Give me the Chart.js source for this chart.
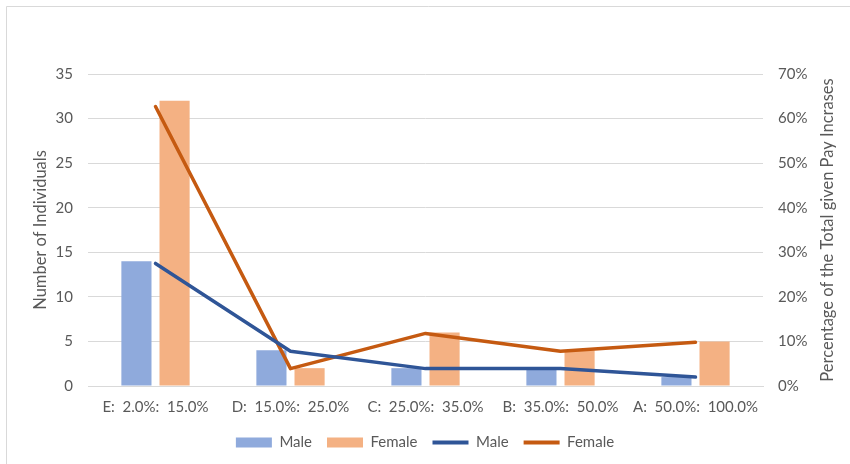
<!DOCTYPE html>
<html>
<head>
<meta charset="utf-8">
<script src="https://cdn.jsdelivr.net/npm/chart.js@4.4.1/dist/chart.umd.min.js"></script>
<style>
  html, body { margin: 0; padding: 0; background: #ffffff; overflow: hidden; }
  #wrap { position: relative; width: 850px; height: 464px; }
</style>
</head>
<body>
<div id="wrap"><canvas id="chart" width="850" height="464"></canvas></div>
<script>
// Pay-increase bands
const categories = [
  'E:  2.0%:  15.0%',
  'D:  15.0%:  25.0%',
  'C:  25.0%:  35.0%',
  'B:  35.0%:  50.0%',
  'A:  50.0%:  100.0%'
];

// Number of individuals per band (left axis)
const maleCounts = [14, 4, 2, 2, 1];
const femaleCounts = [32, 2, 6, 4, 5];

// Share of all pay increases, in percent (right axis)
const malePct = [27.5, 7.8, 3.9, 3.9, 2.0];
const femalePct = [62.7, 3.9, 11.8, 7.8, 9.8];

// Axis ranges
const countMax = 35, countStep = 5;
const pctMax = 70, pctStep = 10;

const TEXT = '#595959';
const GRID = '#d9d9d9';
const FAMILY = 'Lato, "Liberation Sans", sans-serif';
const FONT = { family: FAMILY, size: 15 };
const TITLE_FONT = { family: FAMILY, size: 16.5 };
const RIGHT_TITLE = 'Percentage of the Total given Pay Incrases';

// Light frame around the chart
const framePlugin = {
  id: 'frame',
  beforeDraw(chart) {
    const ctx = chart.ctx;
    ctx.save();
    ctx.fillStyle = '#ffffff';
    ctx.fillRect(0, 0, chart.width, chart.height);
    ctx.strokeStyle = GRID;
    ctx.lineWidth = 1;
    ctx.beginPath();
    ctx.moveTo(6.5, chart.height + 2);
    ctx.lineTo(6.5, 6.5);
    ctx.lineTo(chart.width + 2, 6.5);
    ctx.stroke();
    ctx.restore();
  }
};

// Right-axis title, reading bottom to top like the left one
const rightTitlePlugin = {
  id: 'rightTitle',
  afterDraw(chart) {
    const area = chart.chartArea;
    const ctx = chart.ctx;
    ctx.save();
    ctx.translate(828, (area.top + area.bottom) / 2);
    ctx.rotate(-Math.PI / 2);
    ctx.fillStyle = TEXT;
    ctx.font = TITLE_FONT.size + 'px ' + TITLE_FONT.family;
    ctx.textAlign = 'center';
    ctx.textBaseline = 'middle';
    ctx.fillText(RIGHT_TITLE, 0, 0);
    ctx.restore();
  }
};

new Chart(document.getElementById('chart'), {
  type: 'bar',
  data: {
    labels: categories,
    datasets: [
      {
        type: 'bar', label: 'Male', data: maleCounts, yAxisID: 'y',
        backgroundColor: '#8faadc', borderWidth: 0, order: 2,
        barPercentage: 0.79, categoryPercentage: 0.565
      },
      {
        type: 'bar', label: 'Female', data: femaleCounts, yAxisID: 'y',
        backgroundColor: '#f4b183', borderWidth: 0, order: 2,
        barPercentage: 0.79, categoryPercentage: 0.565
      },
      {
        type: 'line', label: 'Male', data: malePct, yAxisID: 'y1',
        borderColor: '#2f5597', backgroundColor: '#2f5597', borderWidth: 3.5,
        pointRadius: 0, tension: 0, borderCapStyle: 'round', borderJoinStyle: 'round',
        pointStyle: 'line', order: 1
      },
      {
        type: 'line', label: 'Female', data: femalePct, yAxisID: 'y1',
        borderColor: '#c55a11', backgroundColor: '#c55a11', borderWidth: 3.5,
        pointRadius: 0, tension: 0, borderCapStyle: 'round', borderJoinStyle: 'round',
        pointStyle: 'line', order: 1
      }
    ]
  },
  options: {
    responsive: false,
    animation: false,
    devicePixelRatio: 1,
    layout: { padding: { top: 74, left: 0, right: 0, bottom: 4 } },
    plugins: {
      tooltip: { enabled: false },
      legend: {
        position: 'bottom',
        labels: {
          color: TEXT,
          font: FONT,
          usePointStyle: true,
          pointStyleWidth: 36,
          boxHeight: 10,
          padding: 15,
          sort: (a, b) => a.datasetIndex - b.datasetIndex,
          generateLabels(chart) {
            const items = Chart.defaults.plugins.legend.labels.generateLabels(chart);
            items.forEach(it => {
              const ds = chart.data.datasets[it.datasetIndex];
              if (ds.type === 'line') {
                it.pointStyle = 'line';
                it.lineWidth = 4;
                it.strokeStyle = ds.borderColor;
              } else {
                it.pointStyle = 'rect';
                it.lineWidth = 0;
                it.fillStyle = ds.backgroundColor;
              }
            });
            return items;
          }
        }
      }
    },
    scales: {
      x: {
        grid: { display: false, drawTicks: false },
        border: { display: true, color: GRID, width: 1 },
        ticks: { color: TEXT, font: FONT, padding: 12, maxRotation: 0, autoSkip: false },
        afterFit(scale) { scale.height = 34; }
      },
      y: {
        position: 'left',
        min: 0, max: countMax,
        grid: { color: GRID, lineWidth: 1, drawTicks: false },
        border: { display: false },
        ticks: { stepSize: countStep, color: TEXT, font: FONT, padding: 15 },
        title: {
          display: true, text: 'Number of Individuals',
          color: TEXT, font: TITLE_FONT, padding: { top: 31, bottom: 0 }
        },
        afterFit(scale) { scale.width = 88; }
      },
      y1: {
        position: 'right',
        min: 0, max: pctMax,
        grid: { display: false, drawTicks: false },
        border: { display: false },
        ticks: {
          stepSize: pctStep, color: TEXT, font: FONT, padding: 15,
          callback: v => v + '%'
        },
        afterFit(scale) { scale.width = 87; }
      }
    }
  },
  plugins: [framePlugin, rightTitlePlugin]
});
</script>
</body>
</html>
